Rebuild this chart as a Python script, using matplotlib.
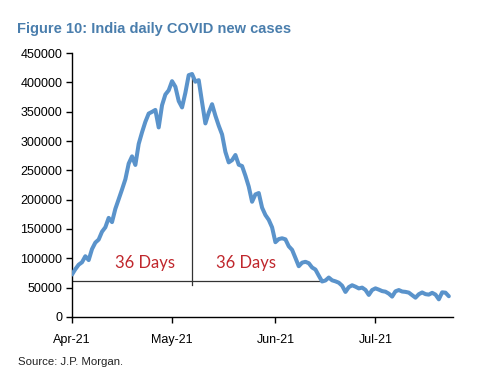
import matplotlib
matplotlib.use("Agg")
import matplotlib.pyplot as plt
import pandas as pd

start_date = "2021-04-01"
new_cases = [
    72330, 81466, 89129, 93249, 103558, 96982, 115736, 126789, 131968, 145384,
    152879, 168912, 161736, 184372, 200739, 217353, 234692, 261500, 273810, 259170,
    295041, 314835, 332730, 346786, 349691, 352991, 323144, 360960, 379257, 386452,
    401993, 392488, 368147, 357229, 382315, 412262, 414188, 401078, 403738, 366161,
    329942, 348421, 362727, 343144, 326098, 311170, 281386, 263533, 267334, 276110,
    259551, 257299, 240842, 222315, 196427, 208921, 211298, 186364, 173790, 165553,
    152734, 127510, 132788, 134154, 132364, 120529, 114460, 100636, 86498, 92596,
    94052, 91702, 84332, 80834, 70421, 60471, 62224, 67208, 62480, 60753,
    58419, 53256, 42640, 50848, 54069, 51667, 48698, 50040, 46148, 37566,
    45951, 48786, 46617, 44111, 43071, 39796, 34703, 43733, 45892, 43393,
    42766, 41506, 37154, 32906, 38792, 41806, 38949, 38079, 41157, 38164,
    30093, 42015, 41383, 35342,
]
dates = pd.date_range(start_date, periods=len(new_cases), freq="D")

tick_dates = pd.to_datetime(["2021-04-01", "2021-05-01", "2021-06-01", "2021-07-01"])
tick_labels = ["Apr-21", "May-21", "Jun-21", "Jul-21"]
y_ticks = list(range(0, 450001, 50000))

peak_date = pd.Timestamp("2021-05-07")
peak_value = 414188
threshold = 61000
end_cross = pd.Timestamp("2021-06-15")
annot_texts = ["36 Days", "36 Days"]

fig = plt.figure(figsize=(5.0, 3.76), dpi=100)
ax = fig.add_axes([0.144, 0.157, 0.762, 0.702])

ax.plot(dates, new_cases, color="#5A93CB", lw=2.9, solid_joinstyle="round",
        solid_capstyle="round", zorder=3)

ax.plot([peak_date, peak_date], [peak_value, threshold - 6000], color="#333333", lw=0.9, zorder=2)
ax.plot([dates[0], end_cross], [threshold, threshold], color="#333333", lw=0.9, zorder=2)

ax.text(pd.Timestamp("2021-04-22 22:00"), 92000, annot_texts[0], color="#C0272D",
        fontsize=12, family="Lato", ha="center", va="center")
ax.text(pd.Timestamp("2021-05-23 05:00"), 92000, annot_texts[1], color="#C0272D",
        fontsize=12, family="Lato", ha="center", va="center")

ax.set_xlim(pd.Timestamp("2021-04-01"), pd.Timestamp("2021-07-24 06:00"))
ax.set_ylim(0, 450000)
ax.set_yticks(y_ticks)
ax.set_yticklabels([str(v) for v in y_ticks])
ax.set_xticks(tick_dates)
ax.set_xticklabels(tick_labels)

for s in ["top", "right"]:
    ax.spines[s].set_visible(False)
for s in ["left", "bottom"]:
    ax.spines[s].set_color("black")
    ax.spines[s].set_linewidth(1.0)
ax.tick_params(axis="both", direction="out", length=4, width=1, colors="black",
               labelsize=9, pad=3)
for lab in ax.get_xticklabels() + ax.get_yticklabels():
    lab.set_family("Liberation Sans")
ax.tick_params(axis="x", pad=8)

fig.text(0.034, 0.922, "Figure 10: India daily COVID new cases", color="#4A7EAD",
         fontsize=10.5, fontweight="bold", family=["Liberation Sans", "DejaVu Sans"],
         ha="left", va="center")
fig.text(0.036, 0.038, "Source: J.P. Morgan.", color="#222222", fontsize=8.2,
         family=["Liberation Sans", "DejaVu Sans"], ha="left", va="center")

fig.savefig("out.png", dpi=100)
